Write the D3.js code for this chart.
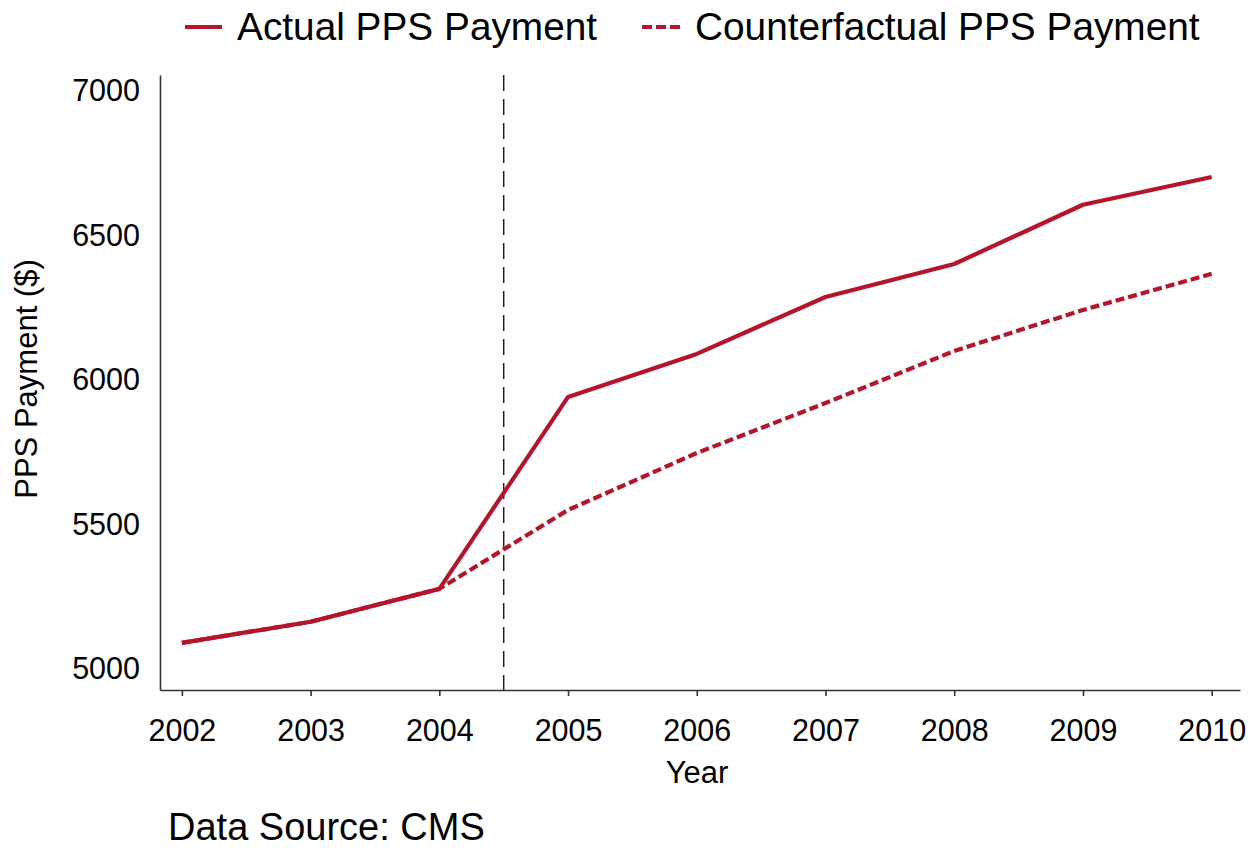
<!DOCTYPE html>
<html>
<head>
<meta charset="utf-8">
<script src="https://cdn.jsdelivr.net/npm/d3@7"></script>
<style>
  html, body { margin: 0; padding: 0; background: #fff; }
  text { font-family: "Liberation Sans", Arial, sans-serif; fill: #000; }
</style>
</head>
<body>
<svg id="chart" width="1251" height="850"></svg>
<script>
const years = [2002, 2003, 2004, 2005, 2006, 2007, 2008, 2009, 2010];
const actual = [5090, 5163, 5277, 5941, 6090, 6287, 6401, 6606, 6702];
const counterfactual = [5090, 5163, 5277, 5550, 5747, 5920, 6100, 6242, 6367];
const yTicks = [5000, 5500, 6000, 6500, 7000];
const seriesNames = ["Actual PPS Payment", "Counterfactual PPS Payment"];
const policyYear = 2004.5;

const svg = d3.select("#chart");
const red = "#b5152b";

const x = d3.scaleLinear().domain([2001.83, 2010.22]).range([160, 1240]);
const y = d3.scaleLinear().domain([4927, 7055]).range([690, 75]);

// axes
const xAxis = svg.append("g")
  .attr("transform", "translate(0,690)")
  .call(d3.axisBottom(x).tickValues(years).tickFormat(d3.format("d"))
    .tickSize(6).tickSizeOuter(0).tickPadding(23));
xAxis.selectAll("text").style("font-size", "30.5px");

const yAxis = svg.append("g")
  .attr("transform", "translate(160,0)")
  .call(d3.axisLeft(y).tickValues(yTicks).tickFormat(d3.format("d"))
    .tickSize(0).tickSizeOuter(0).tickPadding(20));
yAxis.selectAll("text").style("font-size", "30.5px");

svg.selectAll(".domain").attr("stroke", "#333").attr("stroke-width", 1.6);
svg.selectAll(".tick line").attr("stroke", "#333").attr("stroke-width", 1.6);

// vertical policy line
svg.append("line")
  .attr("x1", x(policyYear)).attr("x2", x(policyYear))
  .attr("y1", 75).attr("y2", 690)
  .attr("stroke", "#222").attr("stroke-width", 1.5)
  .attr("stroke-dasharray", "16,8");

// lines
const line = d3.line().x((d, i) => x(years[i])).y(d => y(d));

svg.append("path")
  .datum(counterfactual)
  .attr("d", line)
  .attr("fill", "none")
  .attr("stroke", red)
  .attr("stroke-width", 4.2)
  .attr("stroke-dasharray", "9,4");

svg.append("path")
  .datum(actual)
  .attr("d", line)
  .attr("fill", "none")
  .attr("stroke", red)
  .attr("stroke-width", 4.2)
  .attr("stroke-linejoin", "round");

// axis titles
svg.append("text")
  .attr("x", 697).attr("y", 783)
  .attr("text-anchor", "middle")
  .style("font-size", "31px")
  .text("Year");

svg.append("text")
  .attr("transform", "translate(37,379) rotate(-90)")
  .attr("text-anchor", "middle")
  .style("font-size", "31px")
  .text("PPS Payment ($)");

// caption
svg.append("text")
  .attr("x", 168).attr("y", 840)
  .style("font-size", "38px")
  .text("Data Source: CMS");

// legend
const legend = svg.append("g");
legend.append("line")
  .attr("x1", 185).attr("x2", 222).attr("y1", 27).attr("y2", 27)
  .attr("stroke", red).attr("stroke-width", 4);
legend.append("text")
  .attr("x", 237).attr("y", 40)
  .style("font-size", "38.8px")
  .text(seriesNames[0]);
legend.append("line")
  .attr("x1", 642).attr("x2", 680).attr("y1", 27).attr("y2", 27)
  .attr("stroke", red).attr("stroke-width", 4)
  .attr("stroke-dasharray", "10,4");
legend.append("text")
  .attr("x", 695).attr("y", 40)
  .style("font-size", "38.8px")
  .text(seriesNames[1]);
</script>
</body>
</html>
